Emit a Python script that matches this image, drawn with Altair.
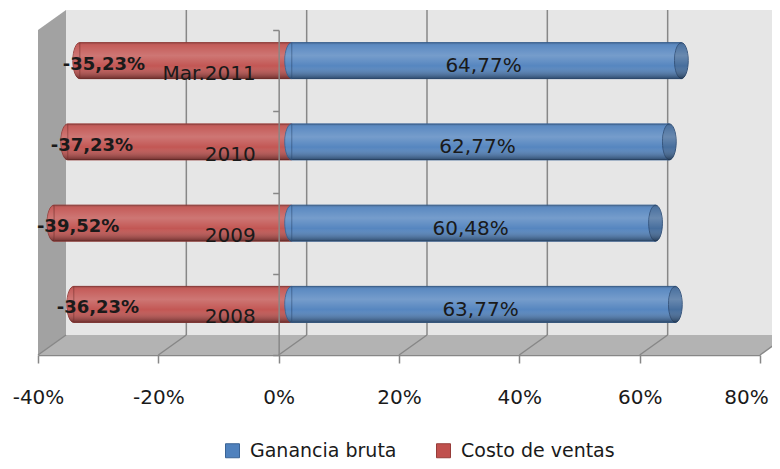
import altair as alt
import pandas as pd

# ---- data ----
categories = ["Mar.2011", "2010", "2009", "2008"]          # top to bottom
ganancia_bruta = [64.77, 62.77, 60.48, 63.77]
costo_ventas = [-35.23, -37.23, -39.52, -36.23]
series = ["Ganancia bruta", "Costo de ventas"]
x_ticks = [-40, -20, 0, 20, 40, 60, 80]

# ---- styling ----
colors = ["#4f81bd", "#c0504d"]
strokes = ["#3a6395", "#963c39"]
cap_fill = "#3f6899"
FONT = "DejaVu Sans"
TXT = "#1a1a1a"
GRID = "#878787"
WALL = "#e6e6e6"
SIDE = "#a2a2a2"
FLOOR = "#b3b3b3"

W, H = 722, 325
X0, X1 = x_ticks[0], x_ticks[-1]
N = len(categories)
PPU = W / (X1 - X0)       # px per x unit
U = H / N                 # px per category slot
DX, DY = 28, -20          # depth of the 3D box, px
BX, BY = 13, -10          # bars sit at half depth
BH = 36                   # bar thickness


def pct(v):
    return f"{v:.2f}".replace(".", ",") + "%"


rows = []
for i, (c, g, k) in enumerate(zip(categories, ganancia_bruta, costo_ventas)):
    rows.append(dict(cat=c, pos=i + 0.5, serie=series[0], v=g, lo=0.0, hi=g, mid=g / 2, label=pct(g)))
    rows.append(dict(cat=c, pos=i + 0.5, serie=series[1], v=k, lo=k, hi=0.0, mid=k / 2, label=pct(k)))
df = pd.DataFrame(rows)
cat_df = pd.DataFrame(dict(cat=categories, pos=[i + 0.5 for i in range(N)], x0=[0.0] * N))

XS = alt.Scale(domain=[X0, X1], nice=False, zero=False, padding=0)
YS = alt.Scale(domain=[0, N], range=[0, H], nice=False, zero=False, padding=0)
CS = alt.Scale(domain=series, range=colors)
SS = alt.Scale(domain=series, range=strokes)

SHADE = {
    "gradient": "linear", "x1": 0, "y1": 0, "x2": 0, "y2": 1,
    "stops": [
        {"offset": 0, "color": "rgba(0,0,0,0.22)"},
        {"offset": 0.08, "color": "rgba(255,255,255,0.08)"},
        {"offset": 0.36, "color": "rgba(255,255,255,0.22)"},
        {"offset": 0.65, "color": "rgba(255,255,255,0.04)"},
        {"offset": 1, "color": "rgba(0,0,0,0.42)"},
    ],
}
LEFT_HALF = "M0,-1A0.38,1,0,0,0,0,1Z"
ELLIPSE = "M0,-1A0.38,1,0,1,1,0,1A0.38,1,0,1,1,0,-1Z"

# ---- 3D box decoration (in scale units) ----
bdx = X0 + DX / PPU
edx = X1 + DX / PPU
dyu = DY / U
back_df = pd.DataFrame([dict(x=bdx, x2=edx, y=dyu, y2=N + dyu)])
side_df = pd.DataFrame([dict(x=float(X0), y=0.0, y2=float(N)), dict(x=bdx, y=dyu, y2=N + dyu)])
floor_df = pd.DataFrame([dict(y=N + dyu, x=bdx, x2=edx), dict(y=float(N), x=float(X0), x2=float(X1))])
grid_df = pd.DataFrame([dict(g=t, y=dyu, y2=N + dyu) for t in x_ticks[1:]])
diag_df = pd.DataFrame([dict(g=t, y=float(N), y2=N + dyu) for t in x_ticks])

# identical axis definitions on every layer, so the shared axes merge cleanly
XAX = alt.Axis(values=x_ticks, labelExpr="datum.value + '%'", title=None, grid=False,
               tickSize=8, tickColor=GRID, tickWidth=1.5, domainColor=GRID, domainWidth=1.5,
               labelPadding=24, labelFont=FONT, labelFontSize=20, labelColor=TXT,
               labelFlush=False, labelOverlap=False, orient="bottom",
               labelOffset={"condition": {"test": f"datum.value == {X1}", "value": -14},
                            "value": 0})
YAX = alt.Axis(values=list(range(N + 1)), labels=False, title=None, orient="left",
               offset=-(0 - X0) * PPU, tickSize=6, tickColor=GRID, tickWidth=1.5,
               domainColor=GRID, domainWidth=1.5, grid=False, zindex=1)


def xq(f):
    return alt.X(f, type="quantitative", scale=XS, axis=XAX)


def yq(f):
    return alt.Y(f, type="quantitative", scale=YS, axis=YAX)


back = alt.Chart(back_df).mark_rect(color=WALL).encode(
    x=xq("x"), x2="x2:Q", y=yq("y"), y2="y2:Q")
side = alt.Chart(side_df).mark_area(color=SIDE, orient="vertical", opacity=1).encode(
    x=xq("x"), y=yq("y"), y2="y2:Q")
floor = alt.Chart(floor_df).mark_area(color=FLOOR, orient="horizontal", opacity=1).encode(
    y=yq("y"), x=xq("x"), x2="x2:Q")
grid = alt.Chart(grid_df).mark_rule(color=GRID, strokeWidth=1.5, xOffset=DX).encode(
    x=xq("g"), y=yq("y"), y2="y2:Q")
diag = alt.Chart(diag_df).mark_rule(color=GRID, strokeWidth=1.5, x2Offset=DX).encode(
    x=xq("g"), x2="g:Q", y=yq("y"), y2="y2:Q")

# ---- bars ----
LEG = alt.Legend(orient="none", legendX=185, legendY=411, direction="horizontal", title=None,
                 symbolType="square", symbolSize=196, symbolStrokeWidth=1,
                 labelFont=FONT, labelFontSize=19, labelColor=TXT, labelOffset=8,
                 columnPadding=37)

base = alt.Chart(df)


def series_layers(i):
    s = series[i]
    sub = base.transform_filter(alt.datum.serie == s)
    rect = sub.mark_bar(size=BH, orient="horizontal", xOffset=BX, x2Offset=BX, yOffset=BY,
                        strokeWidth=1).encode(
        x=xq("lo"), x2="hi:Q", y=yq("pos"),
        color=alt.Color("serie:N", scale=CS, legend=LEG),
        stroke=alt.Stroke("serie:N", scale=SS, legend=LEG))
    rshade = sub.mark_bar(size=BH, orient="horizontal", xOffset=BX, x2Offset=BX, yOffset=BY,
                          fill=SHADE, strokeWidth=0).encode(
        x=xq("lo"), x2="hi:Q", y=yq("pos"))
    cap = sub.mark_point(shape=LEFT_HALF, size=BH * BH, filled=True, fill=colors[i],
                         stroke=strokes[i], strokeWidth=1, opacity=1,
                         xOffset=BX, yOffset=BY).encode(x=xq("lo"), y=yq("pos"))
    cshade = sub.mark_point(shape=LEFT_HALF, size=BH * BH, filled=True, fill=SHADE,
                            strokeWidth=0, opacity=1, xOffset=BX, yOffset=BY).encode(
        x=xq("lo"), y=yq("pos"))
    return [rect, rshade, cap, cshade]


blue = base.transform_filter(alt.datum.serie == series[0])
red = base.transform_filter(alt.datum.serie == series[1])

end_cap = blue.mark_point(shape=ELLIPSE, size=BH * BH, filled=True, fill=cap_fill,
                          stroke="#2d4e78", strokeWidth=1, opacity=1,
                          xOffset=BX, yOffset=BY).encode(x=xq("hi"), y=yq("pos"))
end_shade = blue.mark_point(shape=ELLIPSE, size=BH * BH, filled=True, fill=SHADE,
                            strokeWidth=0, opacity=1, xOffset=BX, yOffset=BY).encode(
    x=xq("hi"), y=yq("pos"))

blue_txt = blue.mark_text(font=FONT, fontSize=20, color=TXT, align="center",
                          baseline="middle", xOffset=10, yOffset=-4.5).encode(
    x=xq("mid"), y=yq("pos"), text="label:N")
red_txt = red.mark_text(font=FONT, fontSize=18, fontWeight="bold", color=TXT, align="left",
                        baseline="middle", yOffset=-6, xOffset=-4).encode(
    x=xq("v"), y=yq("pos"), text="label:N")

# category labels sit left of the vertical axis at x = 0
cat_txt = alt.Chart(cat_df).mark_text(font=FONT, fontSize=20, color=TXT, align="right",
                                      baseline="middle", dx=-23, yOffset=3).encode(
    x=xq("x0"), y=yq("pos"), text="cat:N")

chart = alt.layer(
    back, side, floor, grid, diag,
    *series_layers(1), *series_layers(0),
    end_cap, end_shade, blue_txt, red_txt, cat_txt,
).properties(
    width=W, height=H,
    autosize=alt.AutoSizeParams(type="none"),
    padding={"left": 30, "top": 22, "right": 12, "bottom": 105},
    background="white",
).configure_view(strokeWidth=0)

chart.save("out.html", embed_options={"renderer": "svg", "actions": False})
